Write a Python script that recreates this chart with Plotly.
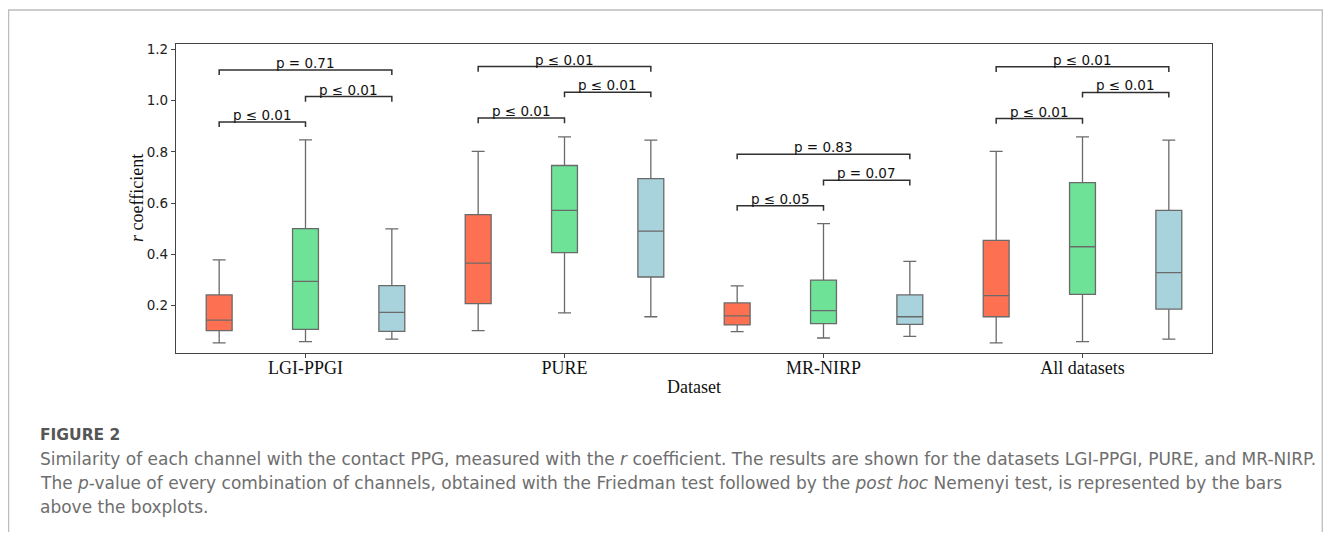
import plotly.graph_objects as go

# ---------------- data ----------------
datasets = ["LGI-PPGI", "PURE", "MR-NIRP", "All datasets"]
channels = ["Red", "Green", "Blue"]

red_lower = [0.055, 0.103, 0.099, 0.055]
red_q1 = [0.103, 0.208, 0.125, 0.157]
red_median = [0.144, 0.366, 0.160, 0.239]
red_q3 = [0.242, 0.555, 0.211, 0.455]
red_upper = [0.379, 0.802, 0.277, 0.802]

green_lower = [0.060, 0.172, 0.074, 0.060]
green_q1 = [0.108, 0.407, 0.130, 0.244]
green_median = [0.295, 0.572, 0.181, 0.430]
green_q3 = [0.501, 0.747, 0.300, 0.680]
green_upper = [0.847, 0.859, 0.520, 0.859]

blue_lower = [0.070, 0.157, 0.080, 0.070]
blue_q1 = [0.100, 0.312, 0.127, 0.187]
blue_median = [0.174, 0.491, 0.157, 0.329]
blue_q3 = [0.278, 0.696, 0.242, 0.572]
blue_upper = [0.500, 0.846, 0.373, 0.846]

# channel pairs compared by the brackets: (Red, Green), (Green, Blue), (Red, Blue)
pairs = [(0, 1), (1, 2), (0, 2)]
bracket_heights = [
    [0.917, 1.016, 1.120],
    [0.932, 1.033, 1.133],
    [0.590, 0.689, 0.791],
    [0.930, 1.032, 1.132],
]
p_labels = [
    ["p ≤ 0.01", "p ≤ 0.01", "p = 0.71"],
    ["p ≤ 0.01", "p ≤ 0.01", "p ≤ 0.01"],
    ["p ≤ 0.05", "p = 0.07", "p = 0.83"],
    ["p ≤ 0.01", "p ≤ 0.01", "p ≤ 0.01"],
]

y_ticks = [0.2, 0.4, 0.6, 0.8, 1.0, 1.2]

caption_title = "FIGURE 2"
caption_lines = [
    "Similarity of each channel with the contact PPG, measured with the <i>r</i> coefficient. "
    "The results are shown for the datasets LGI-PPGI, PURE, and MR-NIRP.",
    "The <i>p</i>-value of every combination of channels, obtained with the Friedman test "
    "followed by the <i>post hoc</i> Nemenyi test, is represented by the bars",
    "above the boxplots.",
]

# ---------------- layout geometry ----------------
OFF = 8  # page body margin
W, H = 1315, 524
ML, MR, MT, MB = 168, 111, 36, 179
PW = W - ML - MR
PH = H - MT - MB


def px_x(sx):
    return (sx - OFF - ML) / PW


def px_y(sy):
    return (H - MB - (sy - OFF)) / PH


colors = ["#fe7052", "#6ee398", "#a8d3dc"]
stats = [
    (red_lower, red_q1, red_median, red_q3, red_upper),
    (green_lower, green_q1, green_median, green_q3, green_upper),
    (blue_lower, blue_q1, blue_median, blue_q3, blue_upper),
]

x_pos = list(range(len(datasets)))
n_ch = len(channels)
hue_offset = [(j - (n_ch - 1) / 2) / n_ch for j in range(n_ch)]

fig = go.Figure()
for j, ch in enumerate(channels):
    lo, q1, me, q3, up = stats[j]
    fig.add_trace(go.Box(
        x=x_pos, lowerfence=lo, q1=q1, median=me, q3=q3, upperfence=up,
        name=ch, fillcolor=colors[j],
        line=dict(color="#6a6a6a", width=1.3),
        whiskerwidth=0.5, boxpoints=False, showlegend=False,
    ))

# significance brackets
tick_depth = 0.02
bx, by = [], []
annotations = []
for i in range(len(datasets)):
    for k, (a, b) in enumerate(pairs):
        h = bracket_heights[i][k]
        xa = x_pos[i] + hue_offset[a]
        xb = x_pos[i] + hue_offset[b]
        bx += [xa, xa, xb, xb, None]
        by += [h - tick_depth, h, h, h - tick_depth, None]
        annotations.append(dict(
            x=(xa + xb) / 2, y=h, xref="x", yref="y", text=p_labels[i][k],
            showarrow=False, yanchor="bottom", xanchor="center", yshift=-3,
            font=dict(family="DejaVu Sans", size=13.5, color="#111111"),
        ))
fig.add_trace(go.Scatter(
    x=bx, y=by, mode="lines", line=dict(color="#303030", width=1.5),
    showlegend=False, hoverinfo="skip",
))

# axis titles as annotations
annotations.append(dict(
    x=px_x(694), y=px_y(387), xref="paper", yref="paper", text="Dataset",
    showarrow=False, xanchor="center", yanchor="middle",
    font=dict(family="Liberation Serif", size=18, color="#111111"),
))
annotations.append(dict(
    x=px_x(137), y=px_y(198), xref="paper", yref="paper", text="<i>r</i> coefficient",
    showarrow=False, xanchor="center", yanchor="middle", textangle=-90,
    font=dict(family="Liberation Serif", size=18, color="#111111"),
))

# caption
annotations.append(dict(
    x=px_x(38), y=px_y(435), xref="paper", yref="paper", text=caption_title,
    showarrow=False, xanchor="left", yanchor="middle",
    font=dict(family="DejaVu Sans", size=15.5, color="#555555", weight="bold"),
))
for n, line in enumerate(caption_lines):
    annotations.append(dict(
        x=px_x(38), y=px_y(459 + 24 * n), xref="paper", yref="paper", text=line,
        showarrow=False, xanchor="left", yanchor="middle",
        font=dict(family="DejaVu Sans", size=17, color="#6e6e6e"),
    ))

shapes = [dict(
    type="rect", xref="paper", yref="paper",
    x0=px_x(8.6), x1=px_x(OFF + W - 0.7), y0=px_y(10), y1=px_y(560),
    line=dict(color="#bdbdbd", width=1.3), fillcolor="rgba(0,0,0,0)",
)]

fig.update_layout(
    width=W, height=H,
    margin=dict(l=ML, r=MR, t=MT, b=MB),
    paper_bgcolor="white", plot_bgcolor="white",
    boxmode="group", boxgap=0, boxgroupgap=0.7,
    annotations=annotations, shapes=shapes,
    showlegend=False,
)
fig.update_xaxes(
    range=[-0.5, 3.5], tickvals=x_pos, ticktext=datasets,
    showline=True, mirror=True, linecolor="#444444", linewidth=1.2,
    ticks="outside", ticklen=4, tickcolor="#444444", tickwidth=1.2,
    showgrid=False, zeroline=False, ticklabelstandoff=-6,
    tickfont=dict(family="Liberation Serif", size=18, color="#111111"),
)
fig.update_yaxes(
    range=[0.0155, 1.221], tickvals=y_ticks, ticktext=[f"{v:.1f}" for v in y_ticks],
    showline=True, mirror=True, linecolor="#444444", linewidth=1.2,
    ticks="outside", ticklen=4, tickcolor="#444444", tickwidth=1.2,
    showgrid=False, zeroline=False,
    tickfont=dict(family="DejaVu Sans", size=13.5, color="#222222"),
)

fig.write_html("out.html")
